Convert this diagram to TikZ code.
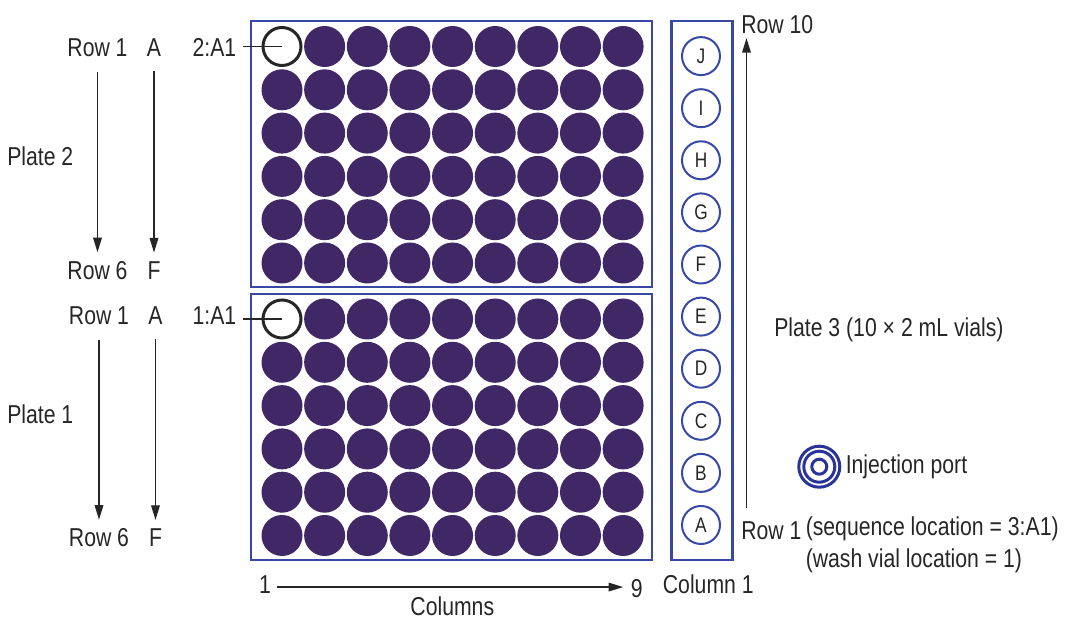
\documentclass[tikz,border=0pt]{standalone}
\usepackage{fontspec}
\setmainfont{Liberation Sans}[FakeStretch=0.82]
\usetikzlibrary{arrows.meta}
\definecolor{wellc}{RGB}{64,40,102}
\definecolor{platec}{RGB}{55,72,165}
\definecolor{portc}{RGB}{42,52,152}
\definecolor{inkc}{RGB}{38,38,38}
\begin{document}
\begin{tikzpicture}[x=0.75pt,y=-0.75pt,declare function={dx=42.64;dy=43.3;},
		font=\fontsize{19.4}{23}\selectfont,
		lbl/.style={inner sep=0pt,text=inkc,anchor=base},
		arr/.style={draw=inkc,line width=1pt,-{Triangle[length=11pt,width=6.5pt]}},
		lead/.style={draw=inkc,line width=1pt},
		plate/.style={draw=platec,line width=1.75pt},
		vial/.style={circle,draw=platec,line width=1.5pt,minimum size=28.5pt,inner sep=0pt,
			text=inkc,font=\fontsize{15.8}{18}\selectfont}]
	\useasboundingbox (0,0) rectangle (1065,620);
	\draw[plate] (251,21) rectangle (652,287) (251,294) rectangle (652,560) (671.5,21) rectangle (732.5,560);
	\foreach \p/\y in {2/46.5, 1/319}{
		\foreach \i in {0,...,8}
			\foreach \j in {0,...,5}{
				\ifnum\numexpr\i+\j\relax>0 \fill[wellc] ({282+\i*dx},{\y+\j*dy}) circle (20.5);\fi
			}
		\path (282,\y) coordinate (W\p);
		\draw[inkc,line width=2.25pt,fill=white] (W\p) circle (19);
	}
	\foreach \p/\a/\b/\x/\q in {2/57/279.3/97.5/166, 1/325/546.7/99/423.3}{
		\node[lbl] (R1\p) at (\x,\a) {Row 1};
		\node[lbl] (A\p) at (\x+56.5,\a) {A};
		\node[lbl] (R6\p) at (\x,\b) {Row 6};
		\node[lbl] (F\p) at (\x+56.5,\b) {F};
		\node[lbl,anchor=base west] (P\p) at (7,\q) {Plate \p};
		\node[lbl,anchor=base east] (L\p) at (236.5,\a) {\p:A1};
		\draw[arr,shorten <=10.5pt,shorten >=6.5pt] (R1\p.south) -- (R6\p.north);
		\draw[arr,shorten <=10.5pt,shorten >=6.5pt] (A\p.south) -- (F\p.north);
		\draw[lead,shorten >=4.5pt] (W\p) -- (W\p -| L\p.east);
	}
	\foreach \t [count=\k from 0] in {A,B,C,D,E,F,G,H,I,J}
		\node[vial] (V\t) at (701,{525-\k*52.1}) {\t};
	\path (746.5,508) coordinate (up0) (746.5,38) coordinate (up1) (819.3,466.7) coordinate (port);
	\draw[arr] (up0) -- (up1);
	\foreach \r in {20.5,15.5,7.5}
		\draw[portc,line width=2.25pt] (port) circle (\r);
	\node[lbl,anchor=base west] (R10) at (741,33.5) {Row 10};
	\node[lbl,anchor=base west] (R1r) at (741,539) {Row 1};
	\node[lbl,anchor=base west] (seq) at (805.5,536) {(sequence location = 3:A1)};
	\node[lbl,anchor=base west] (wash) at (805.5,567) {(wash vial location = 1)};
	\node[lbl,anchor=base west] (P3) at (774,336.7) {Plate 3 (10 × 2 mL vials)};
	\node[lbl,anchor=base west] (inj) at (845.5,473.3) {Injection port};
	\node[lbl] (col1) at (708.3,593.3) {Column 1};
	\node[lbl] (c1) at (265,593.3) {1};
	\node[lbl] (c9) at (636.7,597) {9};
	\node[lbl] (cols) at (452.3,615.5) {Columns};
	\draw[arr,shorten <=4.5pt,shorten >=5.5pt] ([yshift=-2pt]c1.east) -- ([yshift=-2pt]c1.east -| c9.west);
\end{tikzpicture}
\end{document}
